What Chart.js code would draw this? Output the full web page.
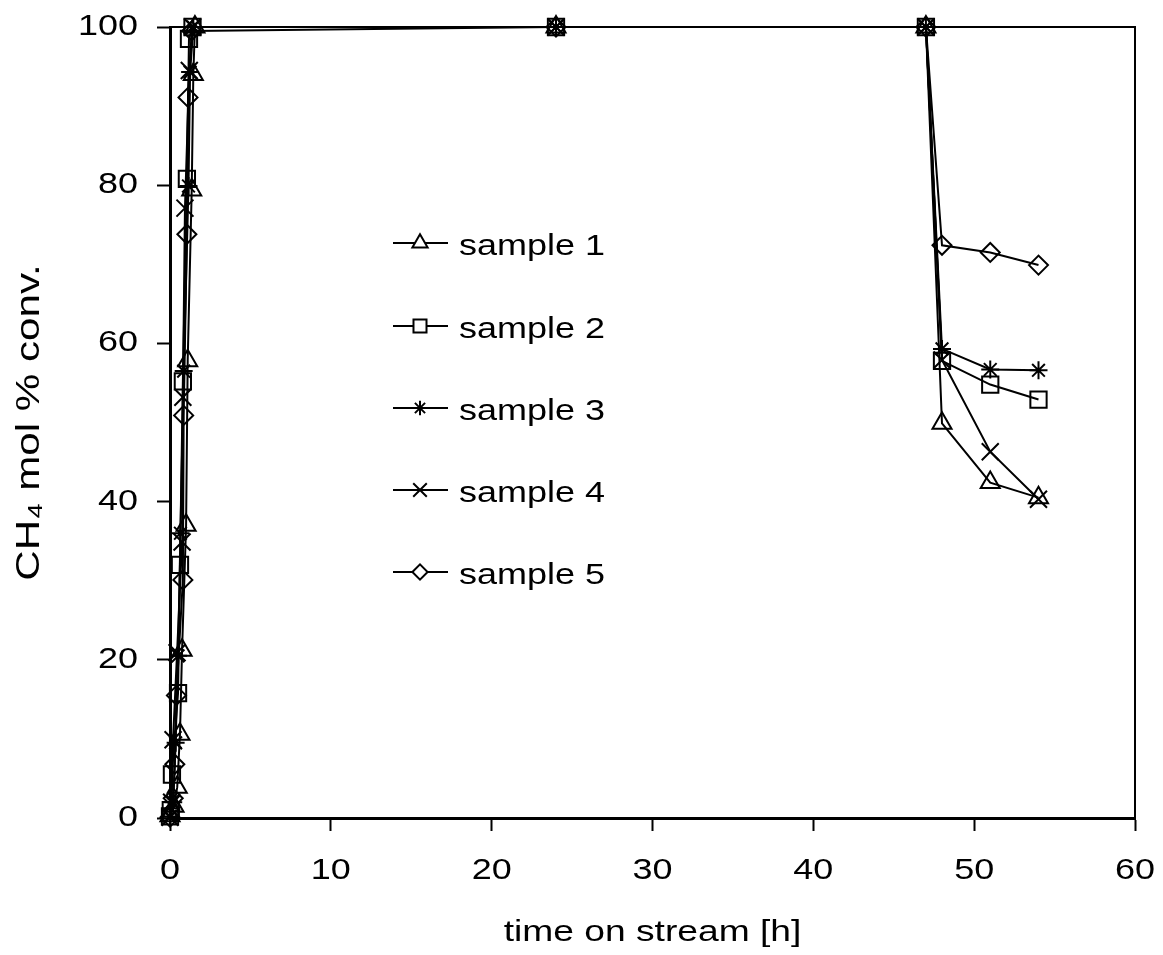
<!DOCTYPE html>
<html>
<head>
<meta charset="utf-8">
<script src="https://cdn.jsdelivr.net/npm/chart.js@4.4.0/dist/chart.umd.min.js"></script>
<style>
  html, body { margin: 0; padding: 0; background: #fff; }
</style>
</head>
<body>
<canvas id="chart" width="1163" height="955"></canvas>
<script>
// time on stream [h] and CH4 conversion for each sample
const t1 = [0, 0.25, 0.45, 0.62, 0.75, 1.0, 1.1, 1.35, 1.45, 1.55, 24, 47, 48, 51, 54];
const v1 = [0.3, 1.5, 3.9, 10.6, 21.2, 37.0, 57.8, 79.4, 94.0, 100, 100, 100, 49.9, 42.4, 40.5];

const t2 = [0, 0.05, 0.12, 0.5, 0.62, 0.8, 1.05, 1.18, 1.4, 24, 47, 48, 51, 54];
const v2 = [0.2, 1.0, 5.5, 15.8, 32.0, 55.2, 80.8, 98.5, 100, 100, 100, 57.8, 54.8, 52.9];

const t3 = [0, 0.2, 0.35, 0.5, 0.65, 0.85, 1.15, 1.25, 1.45, 24, 47, 48, 51, 54];
const v3 = [0.2, 2.0, 9.5, 20.5, 36.0, 56.5, 79.9, 94.3, 100, 100, 100, 59.3, 56.7, 56.6];

const t4 = [0, 0.1, 0.19, 0.44, 0.75, 0.8, 0.93, 1.2, 1.4, 24, 47, 48, 51, 54];
const v4 = [0.1, 2.0, 9.9, 20.9, 34.9, 53.2, 77.1, 94.5, 100, 100, 100, 57.9, 46.3, 40.3];

const t5 = [0, 0.2, 0.3, 0.4, 0.8, 0.85, 1.05, 1.12, 1.35, 24, 47, 48, 51, 54];
const v5 = [0.1, 2.5, 6.8, 15.5, 30.1, 50.9, 73.8, 91.1, 99.5, 100, 100, 72.4, 71.5, 69.9];

const names = ["sample 1", "sample 2", "sample 3", "sample 4", "sample 5"];
const styles = ["triangle", "rect", "star", "crossRot", "rectRot"];
const radii = [11, 11.5, 9, 12, 9.5];

const times = [t1, t2, t3, t4, t5];
const values = [v1, v2, v3, v4, v5];

const canvas = document.getElementById("chart");
const ctx = canvas.getContext("2d");

// the original text is drawn wider than Arial, stretch it horizontally
const stretch = 1.24;
const origFillText = ctx.fillText;
ctx.fillText = function (text, x, y) {
  this.save();
  this.translate(x, y);
  this.scale(stretch, 1);
  origFillText.call(this, text, 0, 0);
  this.restore();
};

const FONT = "'Liberation Sans', Arial, sans-serif";

const datasets = names.map((name, i) => ({
  label: name,
  data: times[i].map((t, j) => ({ x: t, y: values[i][j] })),
  borderColor: "#000",
  borderWidth: 2,
  pointStyle: styles[i],
  pointRadius: radii[i],
  pointBorderWidth: 2,
  pointBorderColor: "#000",
  pointBackgroundColor: "rgba(0,0,0,0)",
  clip: false,
  tension: 0,
}));

// top and right frame lines
const framePlugin = {
  id: "frame",
  beforeDatasetsDraw(chart) {
    const { ctx, chartArea: a } = chart;
    ctx.save();
    ctx.strokeStyle = "#000";
    ctx.lineWidth = 2;
    ctx.beginPath();
    ctx.moveTo(a.left, a.top);
    ctx.lineTo(a.right, a.top);
    ctx.lineTo(a.right, a.bottom);
    ctx.stroke();
    ctx.restore();
  },
};

// legend inside the plot area
const legendPlugin = {
  id: "insideLegend",
  afterDatasetsDraw(chart) {
    const { ctx } = chart;
    const rowsY = [243, 326, 408, 490, 572];
    ctx.save();
    chart.data.datasets.forEach((ds, i) => {
      const y = rowsY[i];
      ctx.strokeStyle = "#000";
      ctx.lineWidth = 2;
      ctx.beginPath();
      ctx.moveTo(393, y);
      ctx.lineTo(448, y);
      ctx.stroke();
      ctx.fillStyle = "#fff";
      Chart.helpers.drawPoint(ctx, {
        pointStyle: ds.pointStyle,
        radius: ds.pointRadius * 0.8,
        rotation: 0,
        borderWidth: 2,
      }, 420, y);
      ctx.fillStyle = "#000";
      ctx.font = "29px " + FONT;
      ctx.textAlign = "left";
      ctx.textBaseline = "alphabetic";
      ctx.fillText(ds.label, 459, y + 12);
    });
    ctx.restore();
  },
};

new Chart(canvas, {
  type: "line",
  data: { datasets },
  plugins: [framePlugin, legendPlugin],
  options: {
    responsive: false,
    animation: false,
    layout: { padding: { top: 27, right: 28, left: 0, bottom: 0 } },
    plugins: {
      legend: { display: false },
      tooltip: { enabled: false },
    },
    scales: {
      x: {
        type: "linear",
        min: 0,
        max: 60,
        afterFit: (s) => {
          s.height = 137;
          s.paddingLeft = 0;
          s.paddingRight = 0;
        },
        ticks: {
          stepSize: 10,
          color: "#000",
          font: { family: FONT, size: 29 },
          padding: 23,
          maxRotation: 0,
          autoSkip: false,
        },
        grid: {
          drawOnChartArea: false,
          drawTicks: true,
          tickLength: 13,
          tickColor: "#000",
          tickWidth: 2,
        },
        border: { display: true, color: "#000", width: 3 },
        title: {
          display: true,
          text: "time on stream [h]",
          color: "#000",
          font: { family: FONT, size: 30 },
          padding: { top: 0, bottom: 4 },
        },
      },
      y: {
        min: 0,
        max: 100,
        afterFit: (s) => {
          s.width = 170;
          s.paddingTop = 0;
          s.paddingBottom = 0;
        },
        ticks: {
          stepSize: 20,
          color: "#000",
          font: { family: FONT, size: 29 },
          padding: 19,
        },
        grid: {
          drawOnChartArea: false,
          drawTicks: true,
          tickLength: 13,
          tickColor: "#000",
          tickWidth: 2,
        },
        border: { display: true, color: "#000", width: 3 },
        title: {
          display: true,
          text: "CH\u2084 mol % conv.",
          color: "#000",
          font: { family: FONT, size: 34 },
          padding: { top: 9, bottom: 0 },
        },
      },
    },
  },
});
</script>
</body>
</html>
